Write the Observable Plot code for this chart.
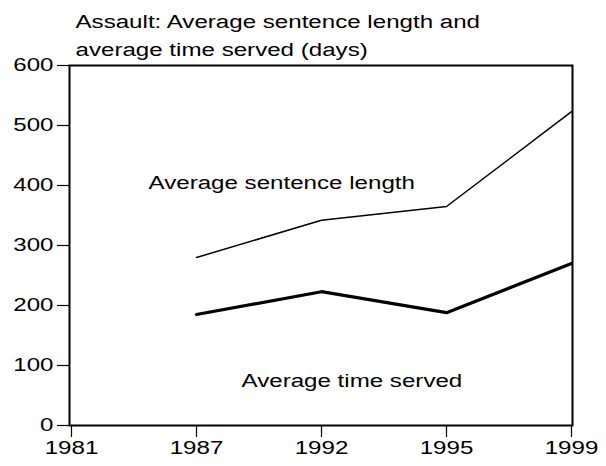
<!DOCTYPE html>
<html>
<head>
<meta charset="utf-8">
<script src="https://cdn.jsdelivr.net/npm/d3@7"></script>
<script src="https://cdn.jsdelivr.net/npm/@observablehq/plot@0.6"></script>
<style>
  html, body { margin: 0; padding: 0; background: #fff; }
  #chart svg { display: block; }
</style>
</head>
<body>
<div id="chart"></div>
<script>
const years = [1981, 1987, 1992, 1995, 1999];
const dataYears = [1987, 1992, 1995, 1999];
const sentenceLength = [280, 342, 365, 523];
const timeServed = [185, 223, 188, 270];
const yTicks = [0, 100, 200, 300, 400, 500, 600];
const titleText = "Assault: Average sentence length and\naverage time served (days)";
const labelSentence = "Average sentence length";
const labelServed = "Average time served";

const sentenceRows = dataYears.map((y, i) => ({year: y, value: sentenceLength[i]}));
const servedRows = dataYears.map((y, i) => ({year: y, value: timeServed[i]}));

const font = "Liberation Sans, Arial, Helvetica, sans-serif";

const chart = Plot.plot({
  width: 606,
  height: 466,
  marginLeft: 69,
  marginRight: 34,
  marginTop: 65,
  marginBottom: 41,
  style: {fontFamily: font, fontSize: "18px", color: "#000", background: "#fff"},
  x: {type: "point", domain: years, padding: 0, label: null},
  y: {domain: [0, 600], label: null},
  marks: [
    Plot.frame({stroke: "#000", strokeWidth: 2}),
    Plot.axisX({tickSize: 12, tickPadding: 4, stroke: "#000", strokeWidth: 1.2, fontSize: 18, tickFormat: d => String(d), label: null}),
    Plot.axisY({ticks: yTicks, tickSize: 12, tickPadding: 4, stroke: "#000", strokeWidth: 1.2, fontSize: 18, label: null}),
    Plot.line(sentenceRows, {x: "year", y: "value", stroke: "#000", strokeWidth: 1.5}),
    Plot.line(servedRows, {x: "year", y: "value", stroke: "#000", strokeWidth: 3.2}),
    Plot.text([labelSentence], {x: 1987, y: 403, text: d => d, textAnchor: "start", dx: -48, fontSize: 18, fill: "#000"}),
    Plot.text([labelServed], {x: 1992, y: 74, text: d => d, textAnchor: "start", dx: -80, fontSize: 18, fill: "#000"}),
    Plot.text([titleText], {frameAnchor: "top-left", text: d => d, textAnchor: "start", lineAnchor: "top", dx: 6, dy: -57, lineHeight: 1.53, fontSize: 18, fill: "#000"})
  ]
});
document.getElementById("chart").appendChild(chart);

// The reference lettering is horizontally stretched; widen glyphs to match.
const stretch = 1.34;
chart.querySelectorAll("text").forEach(t => {
  const spans = t.querySelectorAll("tspan");
  const targets = spans.length ? Array.from(spans) : [t];
  targets.forEach(el => {
    const len = el.getComputedTextLength();
    if (len > 0) {
      el.setAttribute("textLength", (len * stretch).toFixed(2));
      el.setAttribute("lengthAdjust", "spacingAndGlyphs");
    }
  });
});
</script>
</body>
</html>
